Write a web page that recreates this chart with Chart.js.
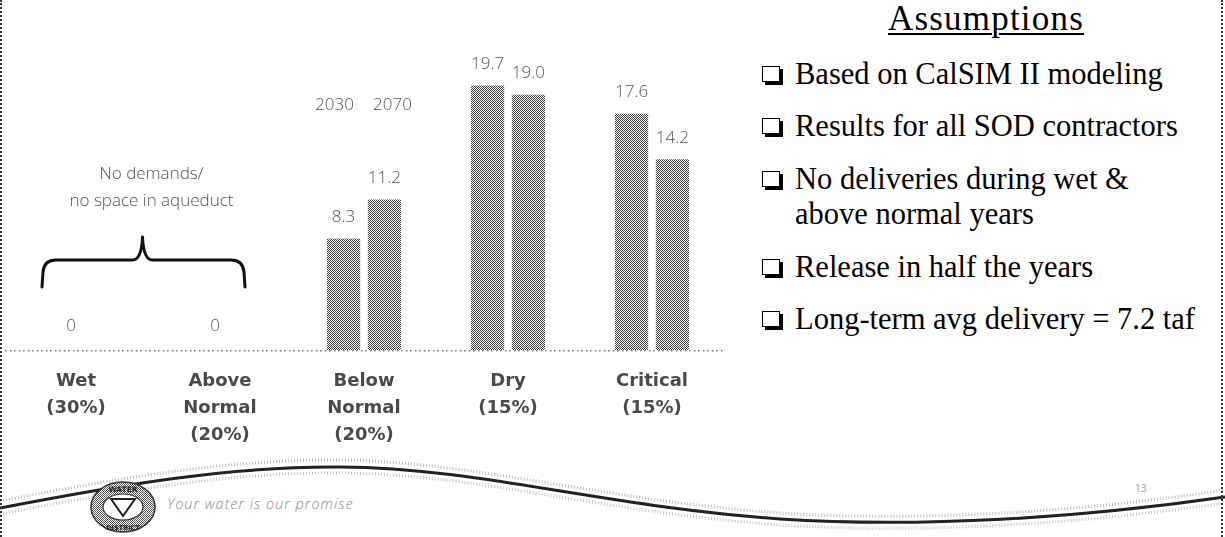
<!DOCTYPE html>
<html>
<head>
<meta charset="utf-8">
<script src="https://cdn.jsdelivr.net/npm/chart.js@4.4.1/dist/chart.umd.min.js"></script>
<style>
  html, body { margin: 0; padding: 0; background: #fff; }
  #slide { position: relative; width: 1225px; height: 537px; overflow: hidden; background: #fff; }
  #frame { position: absolute; left: 0; top: 0; width: 1223px; height: 537px; box-sizing: border-box;
           border-left: 2px dotted #333; border-right: 2px dotted #333; pointer-events: none; }
  #chartBox { position: absolute; left: 0; top: 0; width: 730px; height: 460px; }
  #deco { position: absolute; left: 0; top: 0; }
  #title { position: absolute; left: 740px; top: 1px; width: 492px; text-align: center;
           font-family: "Liberation Serif", serif; font-size: 35px; line-height: 35px; letter-spacing: 1.2px;
           color: #000; text-decoration: underline; text-decoration-thickness: 2px; text-underline-offset: 3px; }
  .item { position: absolute; left: 795px; font-family: "Liberation Serif", serif; font-size: 30.5px;
          line-height: 35px; color: #000; white-space: nowrap; }
  .item::before { content: ""; position: absolute; left: -33px; top: 9px; width: 16px; height: 14px;
                  border: 1.5px solid #000; background: #fff; box-shadow: 3px 3px 0 #000; }
  #motto { position: absolute; left: 167px; top: 494px; font-family: "Open Sans", sans-serif; font-style: italic;
           font-weight: 300; font-size: 14.5px; letter-spacing: 1px; color: #8a8a8a; white-space: nowrap; }
  #page { position: absolute; left: 1135px; top: 481px; font-family: "Open Sans", sans-serif; font-size: 10px; color: #999; }
</style>
</head>
<body>
<div id="slide">
  <svg id="deco" width="1225" height="537" viewBox="0 0 1225 537">
    <defs>
      <pattern id="dots" width="2" height="2" patternUnits="userSpaceOnUse">
        <rect width="2" height="2" fill="#fff"/>
        <rect width="1" height="1" fill="#555"/>
        <rect x="1" y="1" width="1" height="1" fill="#555"/>
      </pattern>
    </defs>
    <!-- footer swoosh -->
    <path d="M0,501 C120,478 230,459 340,460 C480,462 600,500 780,513 C920,522 1080,512 1225,490"
          fill="none" stroke="#bbb" stroke-width="3" stroke-dasharray="1 2"/>
    <path d="M0,514 C120,491 230,472 340,473 C480,474 600,512 780,525 C920,534 1080,524 1225,503"
          fill="none" stroke="#c4c4c4" stroke-width="3" stroke-dasharray="1 2"/>
    <path d="M0,508 C120,485 230,466 340,467 C480,468 600,506 780,519 C920,528 1080,518 1225,497"
          fill="none" stroke="#222" stroke-width="3"/>
    <!-- district seal -->
    <ellipse cx="123" cy="507" rx="32" ry="25" fill="url(#dots)" stroke="#333" stroke-width="1.5"/>
    <ellipse cx="123" cy="507" rx="20" ry="13" fill="#fff" stroke="#333" stroke-width="1.2"/>
    <path d="M111,499 L135,499 L123,516 Z" fill="none" stroke="#222" stroke-width="2"/>
    <text x="123" y="492" text-anchor="middle" font-family="DejaVu Sans" font-weight="bold" font-size="7.5" fill="#222">WATER</text>
    <text x="123" y="530" text-anchor="middle" font-family="DejaVu Sans" font-weight="bold" font-size="6.5" fill="#222">DISTRICT</text>
  </svg>
  <div id="chartBox"><canvas id="c"></canvas></div>
  <div id="title">Assumptions</div>
  <div id="list"></div>
  <div id="motto">Your water is our promise</div>
  <div id="page">13</div>
  <div id="frame"></div>
</div>
<script>
// Year-type categories with their share of years
const categories = [
  ["Wet", "(30%)"],
  ["Above", "Normal", "(20%)"],
  ["Below", "Normal", "(20%)"],
  ["Dry", "(15%)"],
  ["Critical", "(15%)"]
];
// Deliveries by year type (taf)
const seriesNames = ["2030", "2070"];
const values2030 = [0, 0, 8.3, 19.7, 17.6];
const values2070 = [0, 0, 11.2, 19.0, 14.2];
const noteLines = ["No demands/", "no space in aqueduct"];
const assumptions = [
  "Based on CalSIM II modeling",
  "Results for all SOD contractors",
  "No deliveries during wet &<br>above normal years",
  "Release in half the years",
  "Long-term avg delivery = 7.2 taf"
];
const itemTops = [57, 109, 162, 250, 302];

// assumptions list
const list = document.getElementById('list');
assumptions.forEach((t, i) => {
  const d = document.createElement('div');
  d.className = 'item';
  d.style.top = itemTops[i] + 'px';
  d.innerHTML = t;
  list.appendChild(d);
});

const canvas = document.getElementById('c');
const ctx0 = canvas.getContext('2d');

// halftone fill for the bars
function checkerPattern() {
  const c = document.createElement('canvas');
  c.width = 2; c.height = 2;
  const g = c.getContext('2d');
  g.fillStyle = '#fff'; g.fillRect(0, 0, 2, 2);
  g.fillStyle = '#3c3c3c';
  g.fillRect(0, 0, 1, 1); g.fillRect(1, 1, 1, 1);
  return ctx0.createPattern(c, 'repeat');
}
const barFill = checkerPattern();

const labelFont = '300 17px "Open Sans"';

// dotted baseline along the category axis
const baseline = {
  id: 'baseline',
  beforeDatasetsDraw(chart) {
    const { ctx, chartArea } = chart;
    const yb = chart.scales.y.getPixelForValue(0);
    ctx.save();
    ctx.fillStyle = '#777';
    for (let xx = chartArea.left + 1; xx < chartArea.right; xx += 4.5) {
      ctx.fillRect(Math.round(xx), Math.round(yb), 1.5, 1.5);
    }
    ctx.restore();
  }
};

// value labels, series labels, brace and note
const annotations = {
  id: 'annotations',
  afterDatasetsDraw(chart) {
    const { ctx, scales: { x, y } } = chart;
    const metas = chart.data.datasets.map((d, i) => chart.getDatasetMeta(i));
    ctx.save();
    ctx.font = labelFont;
    ctx.fillStyle = '#555';
    ctx.textAlign = 'center';
    ctx.textBaseline = 'middle';
    categories.forEach((c, idx) => {
      const vals = chart.data.datasets.map(d => d.data[idx]);
      if (vals.every(v => v === 0)) {
        ctx.fillText('0', x.getPixelForValue(idx) - 5, y.getPixelForValue(0) - 23.5);
      } else {
        metas.forEach((m, di) => {
          const bar = m.data[idx];
          ctx.fillText(vals[di].toFixed(1), bar.x, bar.y - 21.5);
        });
      }
    });

    // series names above the first non-zero group
    const firstIdx = values2030.findIndex(v => v > 0);
    const sy = y.getPixelForValue(18.2);
    metas.forEach((m, di) => {
      const bar = m.data[firstIdx];
      ctx.fillText(seriesNames[di], bar.x + (di === 0 ? -9 : 8), sy);
    });

    // brace over the zero categories
    const L = x.getPixelForValue(0) - 34;
    const R = x.getPixelForValue(1) + 25;
    const M = (L + R) / 2 - 1;
    const yEnd = y.getPixelForValue(0) - 63;
    const yBar = yEnd - 27;
    const yTip = yBar - 23;
    ctx.strokeStyle = '#111';
    ctx.lineWidth = 3;
    ctx.lineCap = 'round';
    ctx.lineJoin = 'round';
    ctx.beginPath();
    ctx.moveTo(L, yEnd);
    ctx.lineTo(L + 1, yBar + 12);
    ctx.quadraticCurveTo(L + 2, yBar, L + 14, yBar);
    ctx.lineTo(M - 10, yBar);
    ctx.quadraticCurveTo(M - 1, yBar, M, yTip);
    ctx.quadraticCurveTo(M + 1, yBar, M + 10, yBar);
    ctx.lineTo(R - 14, yBar);
    ctx.quadraticCurveTo(R - 2, yBar, R - 1, yBar + 12);
    ctx.lineTo(R, yEnd);
    ctx.stroke();

    // note above the brace
    ctx.fillStyle = '#555';
    ctx.font = labelFont;
    noteLines.forEach((t, i) => ctx.fillText(t, M + 9, yTip - 63 + i * 27));
    ctx.restore();
  }
};

new Chart(canvas, {
  type: 'bar',
  data: {
    labels: categories,
    datasets: [
      { label: seriesNames[0], data: values2030, backgroundColor: barFill, borderWidth: 0,
        categoryPercentage: 0.568, barPercentage: 0.814 },
      { label: seriesNames[1], data: values2070, backgroundColor: barFill, borderWidth: 0,
        categoryPercentage: 0.568, barPercentage: 0.814 }
    ]
  },
  options: {
    responsive: true,
    maintainAspectRatio: false,
    devicePixelRatio: 1,
    animation: false,
    events: [],
    layout: { padding: { left: 4, right: 6, top: 14.25, bottom: 0 } },
    plugins: { legend: { display: false }, tooltip: { enabled: false } },
    scales: {
      y: { display: false, min: 0, max: 25 },
      x: {
        grid: { display: false, drawTicks: false },
        border: { display: false },
        ticks: {
          color: '#4a4a4a',
          padding: 17.5,
          maxRotation: 0,
          autoSkip: false,
          font: { family: '"DejaVu Sans"', size: 18, weight: 'bold', lineHeight: 1.5 }
        },
        afterFit(scale) { scale.height = 110; }
      }
    }
  },
  plugins: [baseline, annotations]
});
</script>
</body>
</html>
